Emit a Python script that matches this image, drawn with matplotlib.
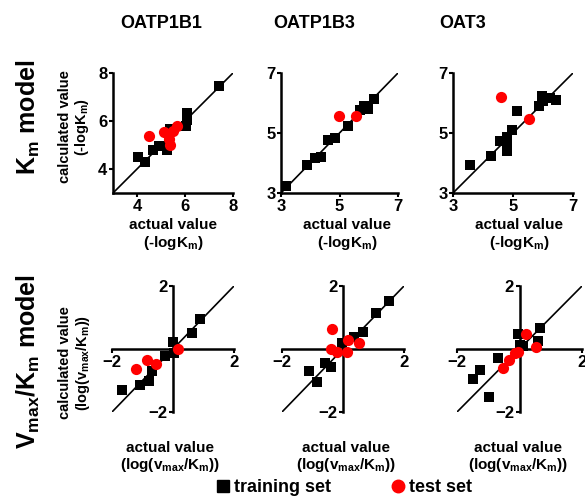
import matplotlib
matplotlib.use("Agg")
import matplotlib.pyplot as plt
from matplotlib.lines import Line2D

plt.rcParams["font.family"] = ["Liberation Sans", "DejaVu Sans"]
plt.rcParams["font.weight"] = "bold"
plt.rcParams["mathtext.fontset"] = "custom"
plt.rcParams["mathtext.rm"] = "Liberation Sans:bold"
plt.rcParams["mathtext.it"] = "Liberation Sans:bold"
plt.rcParams["mathtext.bf"] = "Liberation Sans:bold"
plt.rcParams["mathtext.default"] = "rm"

# Column titles
transporters = ["OATP1B1", "OATP1B3", "OAT3"]

# Km model data (-logKm): actual (x) vs calculated (y)
km_1b1_train_x = [4.05, 4.33, 4.65, 4.93, 5.12, 5.26, 5.37, 6.07, 6.07, 6.04, 7.40]
km_1b1_train_y = [4.50, 4.29, 4.81, 4.94, 4.97, 4.78, 5.67, 6.33, 6.06, 5.81, 7.47]
km_1b1_test_x = [4.49, 5.12, 5.51, 5.68, 5.33, 5.37]
km_1b1_test_y = [5.39, 5.53, 5.57, 5.81, 5.25, 4.99]

km_1b3_train_x = [3.18, 3.88, 4.17, 4.36, 4.62, 4.85, 5.30, 5.70, 5.83, 5.98, 6.18]
km_1b3_train_y = [3.22, 3.94, 4.17, 4.20, 4.76, 4.83, 5.24, 5.78, 5.91, 5.80, 6.13]
km_1b3_test_x = [4.99, 5.55]
km_1b3_test_y = [5.58, 5.58]

km_oat3_train_x = [3.58, 4.26, 4.56, 4.79, 4.81, 4.79, 4.96, 5.12, 5.85, 5.96, 6.00, 6.24, 6.44]
km_oat3_train_y = [3.92, 4.24, 4.72, 4.87, 4.41, 4.61, 5.11, 5.72, 5.89, 6.22, 6.06, 6.17, 6.09]
km_oat3_test_x = [4.59, 5.54]
km_oat3_test_y = [6.19, 5.47]

# Vmax/Km model data (log(vmax/Km))
vk_1b1_train_x = [-1.67, -1.08, -0.80, -0.70, -0.26, -0.01, 0.03, 0.61, 0.90]
vk_1b1_train_y = [-1.30, -1.15, -1.02, -0.69, -0.22, 0.23, -0.14, 0.52, 0.94]
vk_1b1_test_x = [-1.21, -0.84, -0.55, 0.17]
vk_1b1_test_y = [-0.65, -0.35, -0.49, 0.00]

vk_1b3_train_x = [-1.10, -0.84, -0.59, -0.40, -0.02, 0.36, 0.67, 1.09, 1.50]
vk_1b3_train_y = [-0.69, -1.04, -0.43, -0.56, 0.18, 0.39, 0.55, 1.14, 1.53]
vk_1b3_test_x = [-0.37, -0.40, -0.20, 0.12, 0.15, 0.52]
vk_1b3_test_y = [0.63, 0.00, -0.10, -0.08, 0.27, 0.20]

vk_oat3_train_x = [-1.48, -1.25, -0.97, -0.70, -0.04, 0.01, 0.60, 0.65, 0.12]
vk_oat3_train_y = [-0.95, -0.66, -1.52, -0.30, 0.48, 0.13, 0.26, 0.67, 0.08]
vk_oat3_test_x = [-0.52, -0.33, -0.15, 0.20, 0.52, -0.04]
vk_oat3_test_y = [-0.59, -0.35, -0.14, 0.48, 0.05, -0.09]

km_limits = [(3, 8), (3, 7), (3, 7)]
km_ticks = [[4, 6, 8], [3, 5, 7], [3, 5, 7]]
vk_ticks = [-2, 2]

km_data = [
    (km_1b1_train_x, km_1b1_train_y, km_1b1_test_x, km_1b1_test_y),
    (km_1b3_train_x, km_1b3_train_y, km_1b3_test_x, km_1b3_test_y),
    (km_oat3_train_x, km_oat3_train_y, km_oat3_test_x, km_oat3_test_y),
]
vk_data = [
    (vk_1b1_train_x, vk_1b1_train_y, vk_1b1_test_x, vk_1b1_test_y),
    (vk_1b3_train_x, vk_1b3_train_y, vk_1b3_test_x, vk_1b3_test_y),
    (vk_oat3_train_x, vk_oat3_train_y, vk_oat3_test_x, vk_oat3_test_y),
]

W, H = 585, 497
fig = plt.figure(figsize=(W / 100, H / 100), dpi=100)


def px_axes(x0, x1, y0, y1):
    # pixel box (left, right, top, bottom) -> figure axes
    return fig.add_axes([x0 / W, 1 - y1 / H, (x1 - x0) / W, (y1 - y0) / H])


def style_axes(ax):
    ax.spines["top"].set_visible(False)
    ax.spines["right"].set_visible(False)
    for s in ["left", "bottom"]:
        ax.spines[s].set_linewidth(1.8)
    ax.tick_params(width=1.5, length=3, labelsize=12, pad=1)
    for lab in ax.get_xticklabels() + ax.get_yticklabels():
        lab.set_fontweight("bold")


top_boxes = [(113, 233, 73, 193), (281, 398, 73, 193), (453, 573, 73, 193)]
bottom_boxes = [(112, 234, 286, 412), (282, 404, 286, 412), (457, 582, 286, 412)]

# Top row: Km model
for box, lim, ticks, (tx, ty, sx, sy) in zip(top_boxes, km_limits, km_ticks, km_data):
    ax = px_axes(*box)
    ax.plot(lim, lim, color="black", lw=1.2, zorder=1)
    ax.scatter(tx, ty, marker="s", s=60, color="black", zorder=2, linewidths=0)
    ax.scatter(sx, sy, marker="o", s=65, color="red", zorder=3, linewidths=0)
    ax.set_xlim(lim)
    ax.set_ylim(lim)
    ax.set_xticks(ticks)
    ax.set_yticks(ticks)
    style_axes(ax)

# Bottom row: Vmax/Km model
for box, (tx, ty, sx, sy) in zip(bottom_boxes, vk_data):
    ax = px_axes(*box)
    ax.plot([-2, 2], [-2, 2], color="black", lw=1.2, zorder=1)
    ax.scatter(tx, ty, marker="s", s=60, color="black", zorder=2, linewidths=0)
    ax.scatter(sx, sy, marker="o", s=65, color="red", zorder=3, linewidths=0)
    ax.set_xlim(-2, 2)
    ax.set_ylim(-2, 2)
    ax.set_xticks(vk_ticks)
    ax.set_yticks(vk_ticks)
    ax.spines["left"].set_position("zero")
    ax.spines["bottom"].set_position("zero")
    style_axes(ax)

# Column titles
for name, xc in zip(transporters, [161, 314, 463]):
    fig.text(xc / W, 1 - 24 / H, name, ha="center", va="center", fontsize=13, fontweight="bold")

# x labels
for xc in [173, 347, 519]:
    fig.text(xc / W, 1 - 225 / H, "actual value", ha="center", va="center", fontsize=11)
    fig.text(xc / W, 1 - 243 / H, "(-logK$_{m}$)", ha="center", va="center", fontsize=11)
for xc in [170, 346, 518]:
    fig.text(xc / W, 1 - 448 / H, "actual value", ha="center", va="center", fontsize=11)
    fig.text(xc / W, 1 - 465 / H, "(log(v$_{max}$/K$_{m}$))", ha="center", va="center", fontsize=11)

# Row labels
fig.text(28 / W, 1 - 117 / H, "K$_{m}$ model", rotation=90, ha="center", va="center", fontsize=18)
fig.text(65 / W, 1 - 127 / H, "calculated value", rotation=90, ha="center", va="center", fontsize=10.5)
fig.text(82 / W, 1 - 127 / H, "(-logK$_{m}$)", rotation=90, ha="center", va="center", fontsize=10.5)

fig.text(28 / W, 1 - 362 / H, "V$_{max}$/K$_{m}$ model", rotation=90, ha="center", va="center", fontsize=18)
fig.text(65 / W, 1 - 363 / H, "calculated value", rotation=90, ha="center", va="center", fontsize=10.5)
fig.text(83 / W, 1 - 363 / H, "(log(v$_{max}$/K$_{m}$))", rotation=90, ha="center", va="center", fontsize=10.5)

# Legend
handles = [
    Line2D([], [], marker="s", color="black", ls="none", markersize=9),
    Line2D([], [], marker="o", color="red", ls="none", markersize=9),
]
fig.legend(handles, ["training set", "test set"], loc="center", ncol=2,
           bbox_to_anchor=(343 / W, 1 - 488 / H), frameon=False, fontsize=13,
           handletextpad=0.1, columnspacing=3.2, handlelength=1.0, borderpad=0)

fig.savefig("out.png", dpi=100)
